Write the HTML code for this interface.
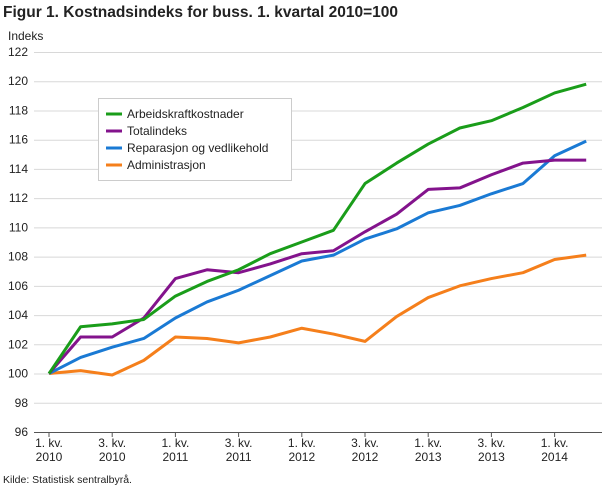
<!DOCTYPE html>
<html><head><meta charset="utf-8"><style>
body{margin:0;background:#fff;width:610px;height:488px;overflow:hidden;font-family:"Liberation Sans",sans-serif}
</style></head><body>
<svg width="610" height="488" xmlns="http://www.w3.org/2000/svg" font-family="Liberation Sans, sans-serif">
<text x="3" y="17" font-size="15.5" font-weight="bold" fill="#222">Figur 1. Kostnadsindeks for buss. 1. kvartal 2010=100</text>
<text x="8" y="40" font-size="12" fill="#222">Indeks</text>
<g id="grid" stroke="#d8d8d8" stroke-width="1"></g>
<g id="ylab" font-size="12" fill="#222" text-anchor="end"></g>
<line x1="34" y1="432.5" x2="602" y2="432.5" stroke="#555" stroke-width="1"/>
<g id="xlab" font-size="12" fill="#222" text-anchor="middle"></g>
<g id="lines" fill="none" stroke-width="3" stroke-linejoin="round"></g>
<rect x="98.5" y="98.5" width="193" height="82" fill="#fff" stroke="#ccc"/>
<g font-size="12" fill="#222">
<line x1="106" y1="114" x2="122" y2="114" stroke="#1a9d1a" stroke-width="3"/><text x="127" y="118">Arbeidskraftkostnader</text>
<line x1="106" y1="131" x2="122" y2="131" stroke="#83138c" stroke-width="3"/><text x="127" y="135">Totalindeks</text>
<line x1="106" y1="148" x2="122" y2="148" stroke="#1a7ad4" stroke-width="3"/><text x="127" y="152">Reparasjon og vedlikehold</text>
<line x1="106" y1="165" x2="122" y2="165" stroke="#f57f1b" stroke-width="3"/><text x="127" y="169">Administrasjon</text>
</g>
<text x="3" y="483" font-size="10.5" fill="#222">Kilde: Statistisk sentralbyrå.</text>
</svg>
<script>
const ns="http://www.w3.org/2000/svg";
const Y=v=>432-(v-96)*14.615;
const X=i=>49+i*31.6;
function el(p,t,a,txt){const e=document.createElementNS(ns,t);for(const k in a)e.setAttribute(k,a[k]);if(txt)e.textContent=txt;document.getElementById(p).appendChild(e);}
for(let v=96;v<=122;v+=2){if(v>96)el("grid","line",{x1:34,x2:602,y1:Y(v)+.5,y2:Y(v)+.5});el("ylab","text",{x:28,y:Y(v)+4},String(v));}
const xl=[["1. kv.","2010"],["3. kv.","2010"],["1. kv.","2011"],["3. kv.","2011"],["1. kv.","2012"],["3. kv.","2012"],["1. kv.","2013"],["3. kv.","2013"],["1. kv.","2014"]];
xl.forEach((l,j)=>{const x=X(j*2);el("xlab","line",{x1:x,x2:x,y1:432,y2:437,stroke:"#555"});el("xlab","text",{x:x,y:447},l[0]);el("xlab","text",{x:x,y:461},l[1]);});
const d={
"#f57f1b":[100,100.2,99.9,100.9,102.5,102.4,102.1,102.5,103.1,102.7,102.2,103.9,105.2,106.0,106.5,106.9,107.8,108.1],
"#1a7ad4":[100,101.1,101.8,102.4,103.8,104.9,105.7,106.7,107.7,108.1,109.2,109.9,111.0,111.5,112.3,113.0,114.9,115.9],
"#83138c":[100,102.5,102.5,103.8,106.5,107.1,106.9,107.5,108.2,108.4,109.7,110.9,112.6,112.7,113.6,114.4,114.6,114.6],
"#1a9d1a":[100,103.2,103.4,103.7,105.3,106.3,107.1,108.2,109.0,109.8,113.0,114.4,115.7,116.8,117.3,118.2,119.2,119.8]};
for(const c in d)el("lines","polyline",{stroke:c,points:d[c].map((v,i)=>X(i)+","+Y(v)).join(" ")});
</script>
</body></html>
